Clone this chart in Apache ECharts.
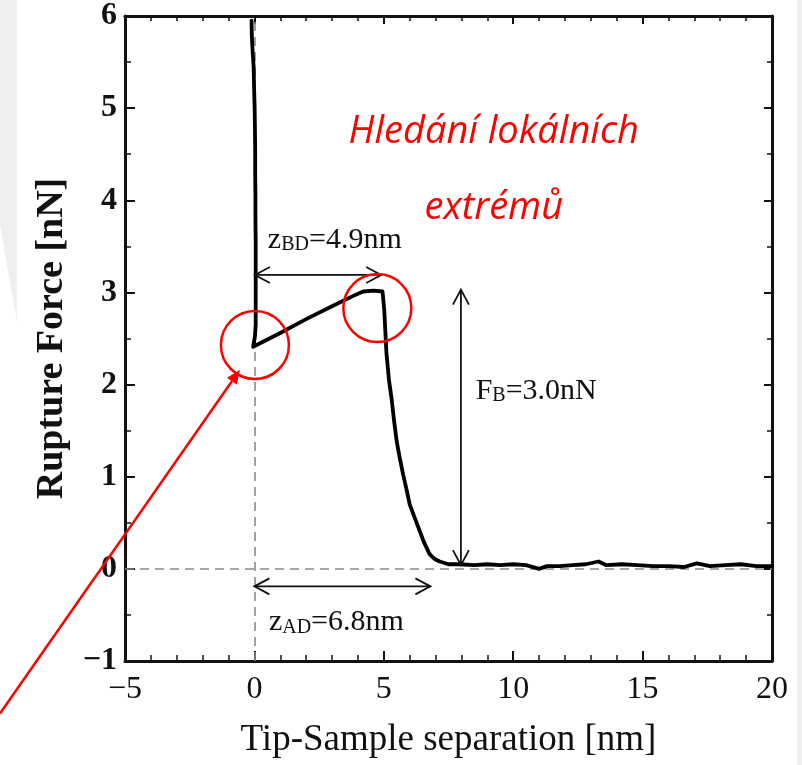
<!DOCTYPE html>
<html>
<head>
<meta charset="utf-8">
<script src="https://cdn.jsdelivr.net/npm/echarts@6/dist/echarts.min.js"></script>
<style>
  html, body { margin: 0; padding: 0; background: #ffffff; }
  #chart { width: 802px; height: 765px; }
</style>
</head>
<body>
<div id="chart"></div>
<script>
// Force–distance retraction curve (tip-sample separation in nm, force in nN)
const separation = [
  -0.11, -0.10, -0.07, -0.03, -0.01, 0.01, 0.02, 0.03, 0.03, 0.04, 0.04, 0.05, 0.05, 0.05, 0.05, 0.05, 0.02, -0.05,
  1.00, 2.00, 3.00, 3.80, 4.20, 4.60, 4.95,
  5.02, 5.10, 5.20, 5.30, 5.40, 5.50, 5.62, 5.75, 5.88, 6.00, 6.20, 6.39, 6.55, 6.77, 6.95, 7.16, 7.50, 7.90,
  8.50, 9.00, 9.50, 10.00, 10.50, 11.00, 11.30, 11.80, 12.30, 12.80, 13.30, 13.60, 14.20, 14.80, 15.40,
  16.00, 16.60, 17.10, 17.60, 18.20, 18.80, 19.40, 20.00
];
const force = [
  5.95, 5.80, 5.62, 5.45, 5.20, 5.00, 4.80, 4.55, 4.30, 4.05, 3.80, 3.55, 3.30, 3.05, 2.80, 2.65, 2.52, 2.41,
  2.56, 2.71, 2.85, 2.96, 3.01, 3.02, 3.01,
  2.80, 2.35, 2.05, 1.85, 1.60, 1.38, 1.20, 1.02, 0.86, 0.70, 0.55, 0.41, 0.29, 0.16, 0.11, 0.08, 0.05, 0.05,
  0.04, 0.05, 0.04, 0.05, 0.04, 0.00, 0.03, 0.03, 0.04, 0.05, 0.08, 0.04, 0.05, 0.04, 0.03,
  0.03, 0.02, 0.06, 0.03, 0.04, 0.05, 0.03, 0.03
];

// Axis ranges
const xRange = [-5, 20];
const yRange = [-1, 6];
const xStep = 5;
const yStep = 1;

// Reference lines (dashed) at zero separation and zero force
const zeroSeparation = 0;
const zeroForce = 0;

// Measurement arrows: [x1, y1, x2, y2]
const measureArrows = [
  [0.02, 3.19, 4.90, 3.19],   // z_BD
  [7.98, 0.04, 7.98, 3.03],   // F_B
  [0.00, -0.19, 6.80, -0.19]  // z_AD
];
// Measurement labels: anchor [x, y] (left-middle)
const measureLabelPos = [
  [0.52, 3.57],
  [8.55, 1.93],
  [0.56, -0.58]
];
const measureLabelText = [
  '{v|z}{s|BD}{v|=4.9nm}',
  '{v|F}{s|B}{v|=3.0nN}',
  '{v|z}{s|AD}{v|=6.8nm}'
];

// Local extrema highlighted by circles: [x, y]
const extremaMarks = [
  [0.02, 2.43],
  [4.75, 2.83]
];
// Pointer arrow toward the lower extremum: [xFrom, yFrom, xTo, yTo]
const pointerArrow = [[-9.83, -1.57, -0.56, 2.16]];

// Heading text, centred at [x, y]
const headingPos = [[9.25, 4.74], [9.25, 3.91]];
const headingText = ['Hledání lokálních', 'extrémů'];

const serif = "'Liberation Serif', 'Times New Roman', serif";
const ink = '#111111';
const red = '#ff0000';

function minusSign(v) {
  return String(v).replace('-', '\u2212');
}

function chevron(tip, from, len, half) {
  const dx = tip[0] - from[0], dy = tip[1] - from[1];
  const d = Math.hypot(dx, dy) || 1;
  const ux = dx / d, uy = dy / d;
  const nx = -uy, ny = ux;
  return [
    [tip[0] - len * ux + half * nx, tip[1] - len * uy + half * ny],
    tip,
    [tip[0] - len * ux - half * nx, tip[1] - len * uy - half * ny]
  ];
}

const chart = echarts.init(document.getElementById('chart'), null, { renderer: 'canvas' });

const axisLineStyle = { color: ink, width: 3 };
const majorTick = { show: true, inside: true, length: 10, lineStyle: { color: ink, width: 2 } };

const option = {
  animation: false,
  backgroundColor: '#ffffff',
  graphic: [
    // light slide background strips at the edges
    { type: 'polygon', silent: true, z: -10,
      shape: { points: [[0, 0], [17, 0], [17, 322], [0, 225]] },
      style: { fill: '#eef0f0' } },
    { type: 'rect', silent: true, z: -10,
      shape: { x: 797, y: 0, width: 5, height: 765 },
      style: { fill: '#efefef' } }
  ],
  grid: { left: 125, right: 30, top: 13, bottom: 104, containLabel: false },
  xAxis: [
    {
      type: 'value', min: xRange[0], max: xRange[1], interval: xStep, position: 'bottom',
      axisLine: { show: true, onZero: false, lineStyle: axisLineStyle },
      axisTick: majorTick,
      minorTick: { show: true, splitNumber: 5, length: 6, lineStyle: { color: ink, width: 1.5 } },
      splitLine: { show: false },
      axisLabel: { color: ink, fontFamily: serif, fontSize: 32, margin: 13, formatter: minusSign },
      name: 'Tip-Sample separation [nm]', nameLocation: 'middle', nameGap: 61,
      nameTextStyle: { color: ink, fontFamily: serif, fontSize: 37 }
    },
    {
      type: 'value', min: xRange[0], max: xRange[1], interval: xStep, position: 'top',
      axisLine: { show: true, onZero: false, lineStyle: axisLineStyle },
      axisTick: { show: true, inside: true, length: 8, lineStyle: { color: ink, width: 2 } },
      minorTick: { show: true, splitNumber: 5, length: 5, lineStyle: { color: ink, width: 1.5 } },
      splitLine: { show: false },
      axisLabel: { show: false }
    }
  ],
  yAxis: [
    {
      type: 'value', min: yRange[0], max: yRange[1], interval: yStep, position: 'left',
      axisLine: { show: true, onZero: false, lineStyle: axisLineStyle },
      axisTick: majorTick,
      minorTick: { show: true, splitNumber: 2, length: 6, lineStyle: { color: ink, width: 1.5 } },
      splitLine: { show: false },
      axisLabel: { color: ink, fontFamily: serif, fontWeight: 'bold', fontSize: 32, margin: 8, formatter: minusSign },
      name: 'Rupture Force [nN]', nameLocation: 'middle', nameGap: 54, nameRotate: 90,
      nameTextStyle: { color: ink, fontFamily: serif, fontWeight: 'bold', fontSize: 38 }
    },
    {
      type: 'value', min: yRange[0], max: yRange[1], interval: yStep, position: 'right',
      axisLine: { show: true, onZero: false, lineStyle: axisLineStyle },
      axisTick: { show: true, inside: true, length: 8, lineStyle: { color: ink, width: 2 } },
      minorTick: { show: true, splitNumber: 2, length: 5, lineStyle: { color: ink, width: 1.5 } },
      splitLine: { show: false },
      axisLabel: { show: false }
    }
  ],
  series: [
    {
      // dashed zero reference lines, kept beneath the curve
      type: 'line', data: [], z: 1, silent: true,
      markLine: {
        z: 1, silent: true, symbol: 'none', animation: false,
        label: { show: false },
        lineStyle: { color: '#8a8a8a', type: [9, 6], width: 1.6 },
        data: [{ xAxis: zeroSeparation }, { yAxis: zeroForce }]
      }
    },
    {
      name: 'force', type: 'line', z: 3, silent: true,
      data: separation.map((x, i) => [x, force[i]]),
      showSymbol: false, symbol: 'none', smooth: false,
      lineStyle: { color: '#000000', width: 3.8, join: 'round', cap: 'round' }
    },
    {
      // double-headed measurement arrows
      type: 'custom', z: 4, silent: true, clip: false,
      data: measureArrows,
      renderItem(params, api) {
        const a = api.coord([api.value(0), api.value(1)]);
        const b = api.coord([api.value(2), api.value(3)]);
        const st = { stroke: ink, lineWidth: 1.8, fill: null, lineJoin: 'miter' };
        return {
          type: 'group',
          children: [
            { type: 'line', shape: { x1: a[0], y1: a[1], x2: b[0], y2: b[1] }, style: st },
            { type: 'polyline', shape: { points: chevron(a, b, 15, 8) }, style: st },
            { type: 'polyline', shape: { points: chevron(b, a, 15, 8) }, style: st }
          ]
        };
      }
    },
    {
      // measurement labels
      type: 'custom', z: 5, silent: true, clip: false,
      data: measureLabelPos,
      renderItem(params, api) {
        const p = api.coord([api.value(0), api.value(1)]);
        return {
          type: 'text', x: p[0], y: p[1],
          style: {
            text: measureLabelText[params.dataIndex],
            align: 'left', verticalAlign: 'middle', fill: ink,
            rich: {
              v: { fontFamily: serif, fontSize: 30, lineHeight: 30, verticalAlign: 'bottom', fill: ink },
              s: { fontFamily: serif, fontSize: 20, lineHeight: 20, verticalAlign: 'bottom', fill: ink }
            }
          }
        };
      }
    },
    {
      // circles around the local extrema
      type: 'custom', z: 6, silent: true, clip: false,
      data: extremaMarks,
      renderItem(params, api) {
        const p = api.coord([api.value(0), api.value(1)]);
        return {
          type: 'circle',
          shape: { cx: p[0], cy: p[1], r: 34 },
          style: { stroke: red, lineWidth: 2.5, fill: null }
        };
      }
    },
    {
      // red pointer arrow
      type: 'custom', z: 6, silent: true, clip: false,
      data: pointerArrow,
      renderItem(params, api) {
        const a = api.coord([api.value(0), api.value(1)]);
        const b = api.coord([api.value(2), api.value(3)]);
        const head = chevron(b, a, 14, 6);
        return {
          type: 'group',
          children: [
            { type: 'line', shape: { x1: a[0], y1: a[1], x2: (head[0][0] + head[2][0]) / 2, y2: (head[0][1] + head[2][1]) / 2 },
              style: { stroke: red, lineWidth: 2.5 } },
            { type: 'polygon', shape: { points: head }, style: { fill: red } }
          ]
        };
      }
    },
    {
      // heading
      type: 'custom', z: 7, silent: true, clip: false,
      data: headingPos,
      renderItem(params, api) {
        const p = api.coord([api.value(0), api.value(1)]);
        return {
          type: 'text', x: p[0], y: p[1],
          style: {
            text: headingText[params.dataIndex],
            align: 'center', verticalAlign: 'middle', fill: red,
            font: "italic 38px 'Open Sans', 'Noto Sans', sans-serif"
          }
        };
      }
    }
  ]
};

chart.setOption(option);
</script>
</body>
</html>
